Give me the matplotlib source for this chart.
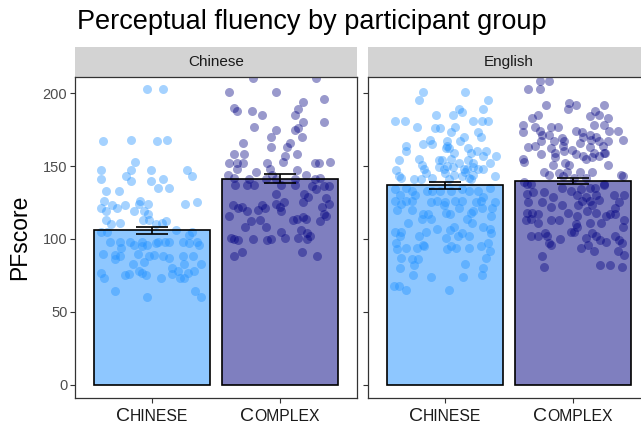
import numpy as np
import matplotlib.pyplot as plt
from matplotlib.patches import Rectangle
from matplotlib.offsetbox import TextArea, HPacker, AnnotationBbox

plt.rcParams['font.family'] = ['Liberation Sans', 'DejaVu Sans']

# facets and groups
panels = ['Chinese', 'English']
groups = ['Chinese', 'Complex']

# bar heights (mean PFscore) and standard errors
means_chinese = [106.0, 141.3]
se_chinese = [2.5, 3.0]
means_english = [136.7, 139.6]
se_english = [2.5, 2.2]

# jittered raw points: (x jitter from group centre, PFscore)
chn_chinese = [
    (-0.04, 203), (0.09, 203), (-0.38, 167), (-0.16, 168), (0.04, 167), (0.12, 168),
    (-0.13, 153), (-0.40, 147), (-0.16, 147), (-0.01, 147), (0.27, 147),
    (-0.40, 141), (-0.20, 143), (-0.16, 140), (-0.01, 140), (0.09, 141), (0.31, 143),
    (-0.36, 133), (-0.26, 133), (0.05, 135), (0.13, 135),
    (-0.37, 126), (-0.09, 126), (0.26, 124), (0.35, 125),
    (-0.40, 121), (-0.36, 119), (-0.31, 123), (-0.27, 121), (-0.21, 123), (-0.14, 119),
    (-0.10, 124), (-0.06, 119), (-0.03, 124),
    (-0.36, 113), (-0.32, 110), (-0.25, 111), (-0.07, 113), (-0.03, 117), (-0.02, 113),
    (0.03, 110), (0.08, 111), (0.11, 112),
    (-0.40, 105), (-0.35, 105), (0.19, 106), (0.29, 103), (0.31, 105),
    (-0.33, 98), (-0.25, 98), (-0.24, 94), (-0.17, 98), (-0.14, 96), (-0.08, 98),
    (-0.08, 95), (-0.04, 96), (0.03, 97), (0.05, 98), (0.10, 98), (0.13, 98),
    (0.24, 98), (0.29, 97), (0.35, 98), (0.37, 96),
    (-0.38, 90), (-0.29, 89), (-0.25, 88), (-0.11, 90), (-0.02, 88), (0.02, 89),
    (0.09, 88), (0.13, 87), (0.24, 88), (0.32, 88),
    (-0.29, 86), (-0.15, 83), (-0.06, 84), (0.16, 80), (0.25, 83), (0.38, 83),
    (-0.40, 77), (-0.37, 73), (-0.21, 75), (-0.18, 76), (-0.10, 78), (-0.08, 77),
    (-0.05, 75), (0.07, 73), (0.16, 76), (0.20, 78), (0.22, 73), (0.25, 73),
    (0.28, 77), (0.33, 78),
    (-0.29, 64), (-0.04, 60), (0.34, 64), (0.38, 60),
]
chn_complex = [
    (-0.21, 210), (0.28, 210), (-0.40, 201), (-0.03, 201), (0.18, 194), (0.34, 196),
    (-0.36, 190), (-0.34, 188), (-0.22, 188), (0.14, 189),
    (-0.14, 185), (0.12, 185), (0.18, 180), (0.34, 180),
    (-0.20, 177), (-0.03, 175), (0.14, 176), (0.12, 175), (-0.07, 170), (0.17, 170),
    (-0.29, 166), (0.08, 166), (0.05, 163), (-0.07, 163),
    (-0.36, 158), (-0.28, 158), (0.04, 157), (0.13, 158),
    (-0.40, 152), (-0.34, 152), (-0.29, 152), (-0.10, 152), (0.02, 153), (0.27, 152),
    (0.30, 152), (0.39, 153),
    (-0.34, 148), (-0.08, 148), (0.13, 147),
    (-0.41, 144), (-0.19, 146), (-0.06, 144), (0.20, 144), (0.31, 142),
    (-0.36, 142), (-0.24, 141), (-0.11, 141), (-0.03, 141), (0.12, 141), (0.27, 141),
    (-0.35, 137), (-0.26, 137), (-0.20, 137), (0.01, 137), (0.12, 137), (0.25, 136),
    (0.28, 134), (0.34, 136), (0.38, 136),
    (-0.03, 131), (0.19, 131), (0.22, 129), (0.36, 128),
    (-0.37, 123), (-0.33, 121), (-0.30, 122), (-0.14, 123), (-0.12, 121), (-0.03, 124),
    (0.00, 122), (0.03, 125), (0.01, 119), (0.18, 125), (0.33, 122), (0.38, 124),
    (-0.26, 119), (-0.17, 120), (-0.40, 116), (0.34, 117), (0.36, 116),
    (-0.23, 112), (-0.16, 113), (0.10, 113), (0.13, 114), (0.18, 115), (0.20, 114),
    (0.31, 112),
    (-0.27, 108), (-0.11, 108), (0.01, 105), (0.16, 106), (0.21, 104),
    (-0.38, 101), (-0.36, 100), (-0.33, 99), (-0.21, 100), (-0.10, 99), (-0.07, 100),
    (0.04, 101), (0.14, 101), (0.21, 100), (0.23, 102),
    (-0.36, 88), (-0.30, 91), (0.17, 91), (0.29, 88),
]
eng_chinese = [
    (-0.17, 201), (0.16, 201), (-0.20, 195), (0.34, 195), (0.30, 189), (0.13, 187),
    (0.11, 189), (-0.07, 185), (0.06, 185),
    (-0.39, 181), (-0.31, 181), (0.22, 181), (0.29, 181), (0.34, 181),
    (-0.22, 177), (-0.08, 176), (-0.04, 176), (0.08, 177), (0.05, 173), (0.26, 173),
    (0.28, 170), (-0.12, 168), (-0.17, 165), (-0.10, 165), (0.02, 167), (0.12, 167),
    (0.15, 170), (-0.30, 164), (-0.30, 160), (0.02, 164), (0.03, 162), (0.18, 162),
    (0.25, 160), (0.32, 160), (0.01, 162), (0.07, 159), (0.20, 159), (0.30, 157),
    (0.40, 157),
    (-0.36, 154), (-0.20, 155), (-0.05, 154), (-0.02, 154), (0.05, 155), (0.11, 152),
    (0.18, 154), (0.22, 152), (0.35, 152),
    (-0.18, 151), (-0.16, 148), (-0.05, 149), (0.02, 150), (0.06, 149), (0.15, 148),
    (0.17, 148), (0.22, 149), (0.26, 148), (0.30, 148),
    (-0.38, 147), (-0.36, 143), (-0.15, 145), (-0.01, 148), (0.00, 145), (0.07, 144),
    (0.13, 143), (0.16, 146), (0.22, 144), (0.39, 143),
    (-0.34, 142), (-0.24, 141), (-0.19, 141), (-0.10, 142), (0.03, 141), (0.20, 141),
    (0.19, 142),
    (-0.39, 134), (-0.35, 130), (-0.30, 135), (-0.26, 133), (-0.23, 130), (-0.14, 133),
    (-0.10, 133), (-0.04, 133), (0.05, 133), (0.13, 134), (0.19, 133), (0.26, 133),
    (0.35, 135),
    (-0.39, 126), (-0.34, 124), (-0.30, 126), (-0.26, 126), (-0.11, 125), (-0.06, 126),
    (0.00, 125), (0.08, 126), (0.13, 126), (0.24, 125), (0.28, 126), (0.30, 129),
    (0.39, 125),
    (-0.37, 120), (-0.26, 120), (-0.01, 123), (0.11, 121), (0.29, 121), (0.37, 121),
    (-0.17, 117), (-0.13, 117), (0.01, 118), (0.04, 117), (0.20, 118), (0.22, 119),
    (0.36, 116),
    (-0.18, 114), (-0.11, 114), (0.17, 114), (0.21, 111),
    (-0.29, 111), (-0.06, 107), (0.04, 106), (0.07, 108), (0.30, 108), (0.35, 107),
    (-0.39, 105), (-0.34, 105), (-0.15, 105), (0.13, 104), (0.36, 104),
    (-0.35, 102), (-0.20, 102), (0.01, 101), (0.10, 102), (0.19, 102),
    (-0.38, 97), (-0.37, 93), (-0.30, 94), (-0.22, 94), (-0.17, 96), (-0.16, 95),
    (0.02, 93), (0.05, 95), (0.09, 94), (0.19, 94), (0.28, 95), (0.34, 97), (0.35, 92),
    (-0.34, 87), (-0.26, 86), (-0.21, 86), (-0.24, 82), (0.16, 83), (0.32, 87),
    (-0.35, 80), (0.30, 80),
    (-0.25, 75), (-0.11, 74), (0.14, 74), (0.29, 75),
    (-0.40, 68), (-0.36, 68), (-0.30, 65), (0.03, 65),
]
eng_complex = [
    (-0.26, 208), (-0.19, 208), (-0.35, 203), (-0.26, 203),
    (-0.21, 192), (-0.03, 193), (0.02, 192), (0.24, 192), (-0.04, 189),
    (-0.27, 185), (-0.32, 183), (0.13, 184), (0.17, 188), (0.20, 185), (0.27, 183),
    (-0.39, 178), (-0.30, 177), (-0.17, 177), (-0.12, 177), (0.16, 178), (0.24, 178),
    (-0.39, 173), (-0.26, 174), (0.02, 174), (0.07, 173), (0.28, 174), (0.35, 174),
    (-0.24, 171), (-0.19, 171), (-0.09, 169), (0.08, 170), (0.13, 171), (0.18, 170),
    (0.39, 168),
    (-0.25, 167), (-0.15, 167), (-0.07, 167), (0.05, 166), (0.14, 168), (0.20, 167),
    (0.27, 167),
    (-0.35, 163), (-0.30, 164), (-0.17, 162), (-0.08, 164), (0.13, 163), (0.23, 164),
    (0.25, 159),
    (-0.25, 158), (-0.14, 159), (-0.07, 160), (-0.01, 161), (0.02, 158), (0.08, 157),
    (0.16, 159), (0.24, 159),
    (-0.39, 155), (-0.38, 153), (-0.14, 156), (0.10, 155), (0.15, 156), (0.20, 157),
    (-0.16, 151), (-0.06, 152), (-0.03, 151), (0.27, 151),
    (-0.23, 146), (-0.11, 145), (-0.05, 146), (0.05, 146), (0.15, 146), (0.37, 144),
    (0.39, 143),
    (-0.19, 144), (-0.08, 143), (0.01, 142), (0.10, 142), (0.24, 138), (-0.38, 139),
    (-0.36, 138), (-0.33, 138), (-0.09, 135), (-0.02, 133), (0.06, 134), (0.13, 135),
    (0.17, 135), (0.24, 137),
    (-0.36, 131), (-0.31, 132), (-0.23, 132), (-0.16, 129), (0.03, 130), (0.10, 129),
    (0.18, 130), (0.32, 130), (0.40, 130),
    (-0.35, 125), (-0.24, 125), (-0.17, 122), (-0.09, 123), (0.04, 123), (0.07, 126),
    (0.13, 126), (0.15, 123), (0.20, 127), (0.36, 125), (0.33, 121),
    (-0.36, 118), (-0.32, 118), (-0.27, 117), (-0.04, 118), (0.03, 116), (0.11, 119),
    (0.18, 118), (0.26, 116), (0.29, 117), (0.33, 117),
    (-0.37, 113), (-0.33, 114), (-0.27, 111), (-0.17, 113), (-0.11, 113), (0.13, 111),
    (0.22, 111), (0.40, 113), (0.39, 108), (0.02, 110), (0.03, 108),
    (-0.02, 105), (0.01, 105), (-0.33, 102), (-0.27, 102), (-0.22, 104), (-0.20, 102),
    (-0.10, 100), (0.10, 101), (0.15, 104), (0.18, 102), (0.21, 99), (0.26, 98),
    (0.33, 102), (0.36, 99), (0.38, 97),
    (-0.19, 97), (-0.17, 96), (0.06, 94), (0.12, 96), (0.16, 92), (0.35, 92), (0.40, 89),
    (-0.24, 88), (-0.23, 81), (0.21, 82), (0.29, 82), (0.38, 81),
]

points = {'Chinese': [chn_chinese, chn_complex], 'English': [eng_chinese, eng_complex]}
means = {'Chinese': means_chinese, 'English': means_english}
ses = {'Chinese': se_chinese, 'English': se_english}

bar_colors = ['dodgerblue', 'navy']
edge = '#333333'

fig = plt.figure(figsize=(6.41, 4.28), dpi=100)
W, H = 641, 428
bottom = (H - 398) / H
height = 321 / H
lefts = [75, 368]


def small_caps(ax, x, word):
    first = TextArea(word[0], textprops=dict(size=14, color='#1a1a1a'))
    rest = TextArea(word[1:].upper(), textprops=dict(size=11.3, color='#1a1a1a'))
    box = HPacker(children=[first, rest], align='baseline', pad=0, sep=0)
    ab = AnnotationBbox(box, (x, 0), xycoords=('data', 'axes fraction'),
                        xybox=(0, -7), boxcoords='offset points',
                        box_alignment=(0.5, 1), frameon=False, annotation_clip=False)
    ax.add_artist(ab)


for k, panel in enumerate(panels):
    ax = fig.add_axes([lefts[k] / W, bottom, 282 / W, height])
    xs = np.arange(1, len(groups) + 1)
    for i, g in enumerate(groups):
        ax.bar(xs[i], means[panel][i], width=0.9, color=bar_colors[i], alpha=0.5,
               zorder=1)
        ax.bar(xs[i], means[panel][i], width=0.9, facecolor='none', edgecolor='black',
               linewidth=1.2, zorder=4)
        pts = np.array(points[panel][i])
        ax.scatter(xs[i] + pts[:, 0], pts[:, 1], s=42, color=bar_colors[i], alpha=0.4,
                   linewidths=0, zorder=2)
        ax.errorbar(xs[i], means[panel][i], yerr=ses[panel][i], fmt='none',
                    ecolor='black', elinewidth=1.2, capsize=11.5, capthick=1.2,
                    zorder=5)

    ax.set_xlim(0.4, 2.6)
    ax.set_ylim(-9, 211)
    ax.set_xticks(xs)
    ax.set_xticklabels([])
    ax.set_yticks([0, 50, 100, 150, 200])
    if k == 0:
        ax.set_yticklabels(['0', '50', '100', '150', '200'])
    else:
        ax.set_yticklabels([])
    ax.tick_params(axis='both', length=3.5, width=0.8, color=edge,
                   labelsize=10.5, labelcolor='#4d4d4d', pad=2)
    for sp in ax.spines.values():
        sp.set_color(edge)
        sp.set_linewidth(0.9)
    for i, g in enumerate(groups):
        small_caps(ax, xs[i], g)

    # facet strip
    ax.add_patch(Rectangle((0, 1), 1, 30 / 321, transform=ax.transAxes,
                           facecolor='#d3d3d3', edgecolor='none', clip_on=False))
    ax.text(0.5, 1 + 15 / 321, panel, transform=ax.transAxes, ha='center',
            va='center', fontsize=11, color='#1a1a1a')

fig.text(77 / W, 1 - 29 / H, 'Perceptual fluency by participant group',
         fontsize=19.5, ha='left', va='baseline', color='black')
fig.text(20 / W, bottom + height / 2, 'PFscore', rotation=90, fontsize=16.5,
         ha='center', va='center', color='black')

fig.savefig('out.png', dpi=100)
